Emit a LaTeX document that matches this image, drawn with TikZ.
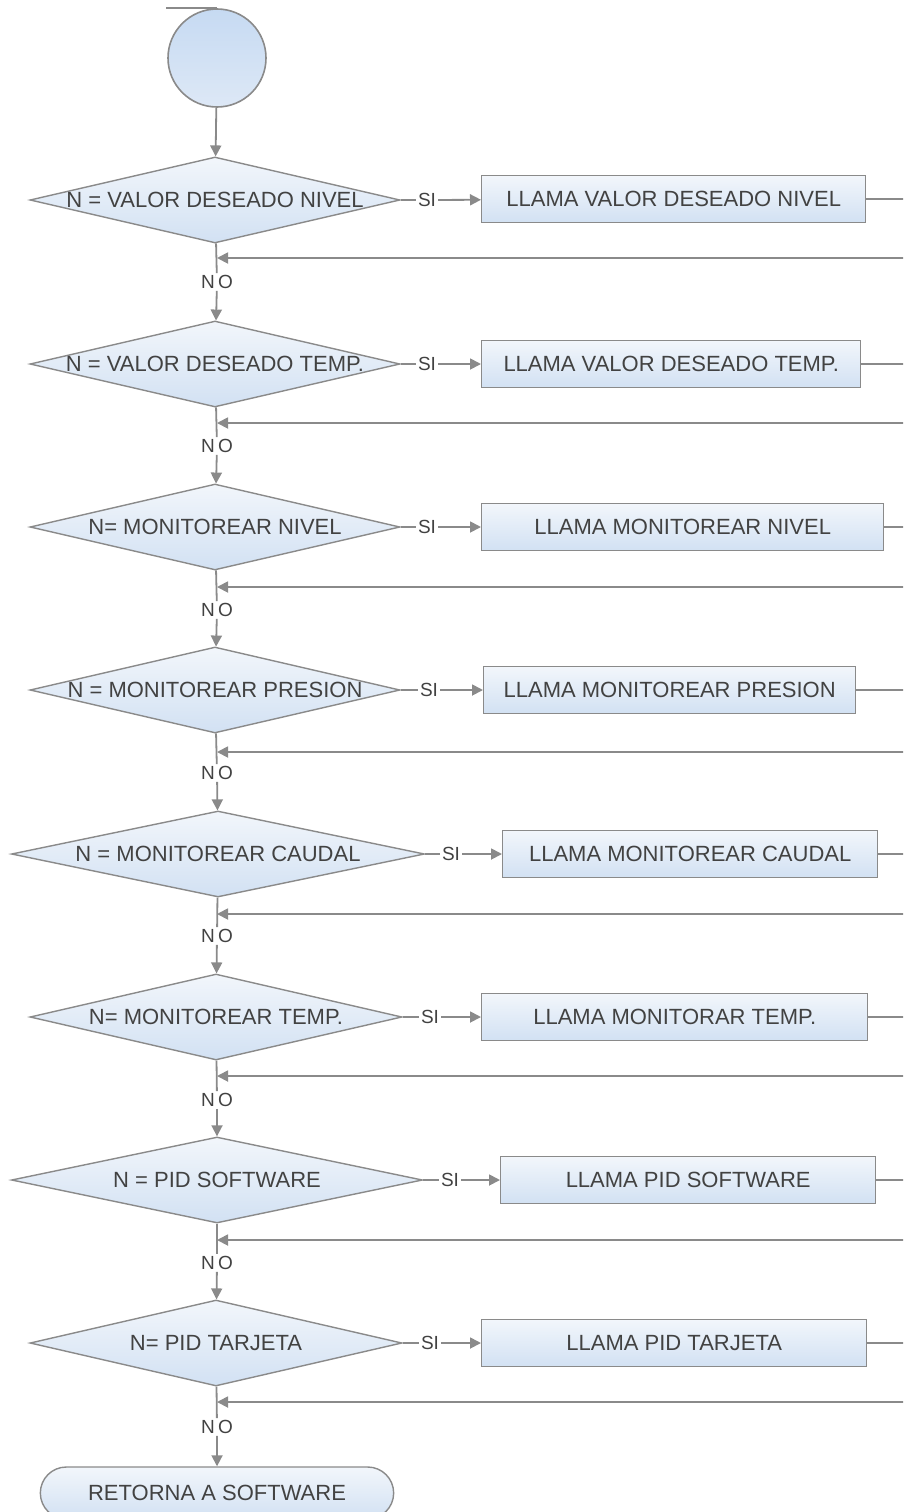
\documentclass[tikz,border=0pt]{standalone}
\usepackage{fontspec}
\setmainfont{Liberation Sans}
\usetikzlibrary{shapes.geometric,shapes.misc,arrows.meta}
\definecolor{edge}{HTML}{8A8A8A}
\definecolor{ink}{HTML}{424242}
\definecolor{fillTop}{HTML}{F2F6FB}
\definecolor{fillBot}{HTML}{D2E1F3}
\definecolor{ballTop}{HTML}{C6DAF2}
\definecolor{ballBot}{HTML}{DDE8F6}
\begin{document}
\begin{tikzpicture}[x=1pt,y=-1pt,
  font=\fontsize{22}{24}\selectfont, text=ink,
  link/.style={draw=edge, line width=1.8pt},
  flow/.style={link, -{Triangle[length=11pt,width=11pt]}},
  decision/.style={diamond, draw=edge, line width=1.4pt, top color=fillTop,
    bottom color=fillBot, inner sep=0pt, minimum width=#1, minimum height=86pt},
  decision/.default=370pt,
  dlabel/.style={text=ink, font=\fontsize{22}{24}\selectfont},
  callbox/.style={rectangle, draw=edge, line width=1.4pt, top color=fillTop,
    bottom color=fillBot, anchor=west, minimum height=47pt, minimum width=#1},
  tag/.style={inner sep=2pt, font=\fontsize{19}{21}\selectfont, text=ink},
  terminal/.style={rounded rectangle, draw=edge, line width=1.4pt, top color=fillTop,
    bottom color=fillBot, minimum width=360pt, minimum height=52pt},
  startball/.style={circle, draw=edge, line width=1.6pt, top color=ballTop,
    bottom color=ballBot, minimum size=98pt, inner sep=0pt}
]
\useasboundingbox (0,0) rectangle (903,1512);
\clip (0,0) rectangle (903,1512);

% start
\node[startball] (start) at (217,58) {};
\draw[link] (start.north) -- ++(-51,0);

% decisions
\node[decision] (d1) at (215,200) {};
\node[dlabel] (t1) at (d1) {N = VALOR DESEADO NIVEL};
\node[decision] (d2) at (215,364) {};
\node[dlabel] (t2) at (d2) {N = VALOR DESEADO TEMP.};
\node[decision] (d3) at (215,527) {};
\node[dlabel] (t3) at (d3) {N= MONITOREAR NIVEL};
\node[decision] (d4) at (215,690) {};
\node[dlabel] (t4) at (d4) {N = MONITOREAR PRESION};
\node[decision=413pt] (d5) at (218,854) {};
\node[dlabel] (t5) at (d5) {N = MONITOREAR CAUDAL};
\node[decision=372pt] (d6) at (216,1017) {};
\node[dlabel] (t6) at (d6) {N= MONITOREAR TEMP.};
\node[decision=411pt] (d7) at (217,1180) {};
\node[dlabel] (t7) at (d7) {N = PID SOFTWARE};
\node[decision=372pt] (d8) at (216,1343) {};
\node[dlabel] (t8) at (d8) {N= PID TARJETA};

% call boxes
\node[callbox=384pt] (b1) at (481,199) {LLAMA VALOR DESEADO NIVEL};
\node[callbox=379pt] (b2) at (481,364) {LLAMA VALOR DESEADO TEMP.};
\node[callbox=402pt] (b3) at (481,527) {LLAMA MONITOREAR NIVEL};
\node[callbox=372pt] (b4) at (483,690) {LLAMA MONITOREAR PRESION};
\node[callbox=375pt] (b5) at (502,854) {LLAMA MONITOREAR CAUDAL};
\node[callbox=386pt] (b6) at (481,1017) {LLAMA MONITORAR TEMP.};
\node[callbox=375pt] (b7) at (500,1180) {LLAMA PID SOFTWARE};
\node[callbox=385pt] (b8) at (481,1343) {LLAMA PID TARJETA};

% end
\node[terminal] (fin) at (217,1493) {RETORNA A SOFTWARE};

% SI labels
\node[tag] (s1) at (427,200) {SI};
\node[tag] (s2) at (427,364) {SI};
\node[tag] (s3) at (427,527) {SI};
\node[tag] (s4) at (429,690) {SI};
\node[tag] (s5) at (451,854) {SI};
\node[tag] (s6) at (430,1017) {SI};
\node[tag] (s7) at (450,1180) {SI};
\node[tag] (s8) at (430,1343) {SI};

% NO labels
\node[tag] (n1) at (217,282) {N\,O};
\node[tag] (n2) at (217,446) {N\,O};
\node[tag] (n3) at (217,610) {N\,O};
\node[tag] (n4) at (217,773) {N\,O};
\node[tag] (n5) at (217,936) {N\,O};
\node[tag] (n6) at (217,1100) {N\,O};
\node[tag] (n7) at (217,1263) {N\,O};
\node[tag] (n8) at (217,1427) {N\,O};

% return points on the main column
\coordinate (r1) at (217,258);
\coordinate (r2) at (217,423);
\coordinate (r3) at (217,587);
\coordinate (r4) at (217,752);
\coordinate (r5) at (217,914);
\coordinate (r6) at (217,1076);
\coordinate (r7) at (217,1240);
\coordinate (r8) at (217,1402);

% main column
\draw[flow] (start) -- (d1);
\foreach \i/\j in {1/2,2/3,3/4,4/5,5/6,6/7,7/8} {
  \draw[link] (d\i) -- (n\i);
  \draw[flow] (n\i) -- (d\j);
}
\draw[link] (d8) -- (n8);
\draw[flow] (n8) -- (fin);

% yes branches and their returns along the right margin
\foreach \i in {1,...,8} {
  \draw[link] (d\i.east) -- (s\i);
  \draw[flow] (s\i) -- (b\i);
  \draw[flow] (b\i.east) -- (b\i.east -| 906,0) |- (r\i);
}
\end{tikzpicture}
\end{document}
